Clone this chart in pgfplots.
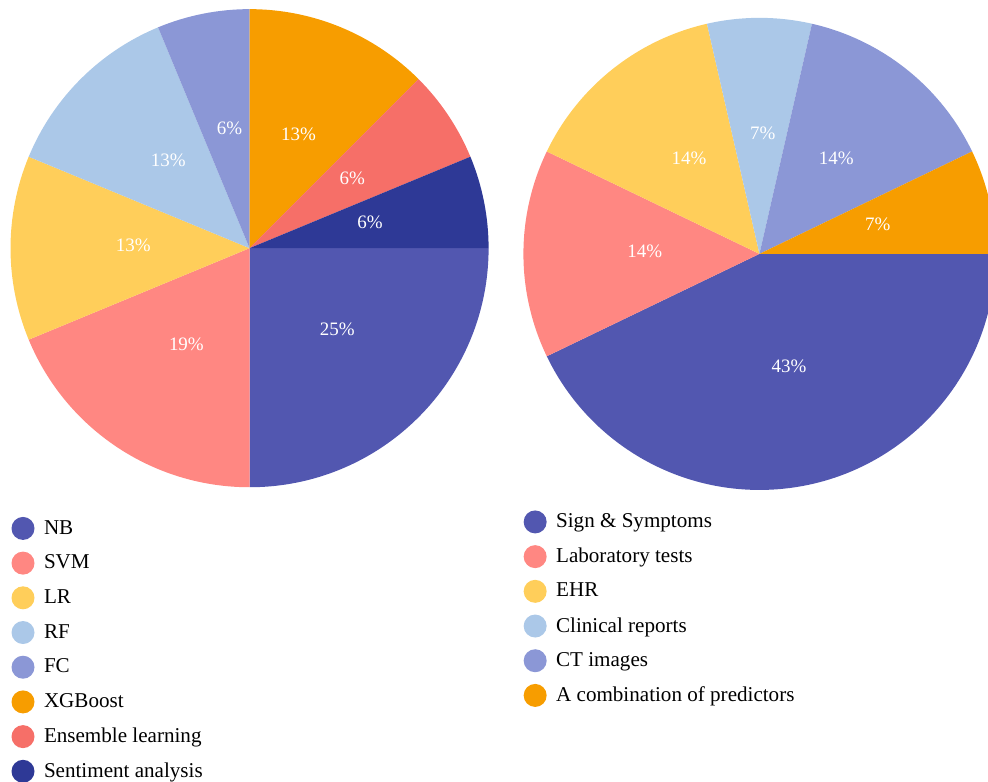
\documentclass[border=0pt]{standalone}
\usepackage{fontspec}
\setmainfont{Liberation Serif}
\usepackage{pgfplots}
\usepackage{pgfplotstable}
\pgfplotsset{compat=1.18}

\definecolor{cNB}{HTML}{5257B0}
\definecolor{cSVM}{HTML}{FF8782}
\definecolor{cLR}{HTML}{FFCE5A}
\definecolor{cRF}{HTML}{ABC8E8}
\definecolor{cFC}{HTML}{8B97D6}
\definecolor{cXGB}{HTML}{F79D00}
\definecolor{cEns}{HTML}{F66F68}
\definecolor{cSent}{HTML}{2E3996}

% Left pie: ML methods (number of studies)
\pgfplotstableread{
name count color
NB 4 cNB
SVM 3 cSVM
LR 2 cLR
RF 2 cRF
FC 1 cFC
XGBoost 2 cXGB
Ensemble 1 cEns
Sentiment 1 cSent
}\tblA

% Right pie: predictors (number of studies)
\pgfplotstableread{
name count color
Signs 6 cNB
Lab 2 cSVM
EHR 2 cLR
Clinical 1 cRF
CT 2 cFC
Combination 1 cXGB
}\tblB

\newcommand{\piechart}[4]{% #1 table, #2 cx, #3 cy, #4 radius (axis units)
  \pgfplotstablegetrowsof{#1}\pgfmathtruncatemacro{\lastrow}{\pgfplotsretval-1}%
  \gdef\ptotal{0}%
  \foreach \i in {0,...,\lastrow}{%
    \pgfplotstablegetelem{\i}{count}\of{#1}%
    \pgfmathsetmacro{\tmp}{\ptotal+\pgfplotsretval}\xdef\ptotal{\tmp}%
  }%
  \gdef\pcum{0}%
  \pgfmathsetlengthmacro{\pR}{#4*0.02cm}%
  \pgfmathsetlengthmacro{\pRl}{0.5*#4*0.02cm}%
  \foreach \i in {0,...,\lastrow}{%
    \pgfplotstablegetelem{\i}{count}\of{#1}\let\pcount\pgfplotsretval
    \pgfplotstablegetelem{\i}{color}\of{#1}\let\pcolor\pgfplotsretval
    \pgfmathsetmacro{\aS}{-360*\pcum/\ptotal}%
    \pgfmathsetmacro{\aE}{-360*(\pcum+\pcount)/\ptotal}%
    \pgfmathsetmacro{\aM}{(\aS+\aE)/2}%
    \pgfmathtruncatemacro{\pct}{round(100*\pcount/\ptotal)}%
    \fill[fill=\pcolor] (axis cs:#2,#3) -- ++(\aS:\pR) arc[start angle=\aS, end angle=\aE, radius=\pR] -- cycle;
    \path (axis cs:#2,#3) ++(\aM:\pRl) node[text=white, inner sep=0pt, xshift=0.065cm, yshift=0.06cm, font=\fontsize{10.8}{12}\selectfont] {\pct\%};
    \pgfmathsetmacro{\tmp}{\pcum+\pcount}\xdef\pcum{\tmp}%
  }%
}

\pgfplotsset{
  piebase/.style={
    x=0.02cm, y=0.02cm, xmin=0, xmax=988, ymin=0, ymax=782,
    hide axis, clip=true, anchor=south west, at={(0,0)},
    legend cell align=left,
    legend image code/.code={\path[##1] (0.23cm,0cm) circle[radius=0.23cm];},
    legend style={draw=none, fill=none, anchor=north west, inner sep=0pt, outer sep=0pt,
      row sep=0.234cm, column sep=0.19cm, font=\fontsize{12}{14}\selectfont,
      nodes={inner sep=0pt, outer sep=0pt}},
  },
}

\begin{document}
\begin{tikzpicture}
\begin{axis}[piebase, legend style={at={(axis description cs:0.01164,0.3389)}}]
\pgfplotsextra{\piechart{\tblA}{249.5}{533.7}{239}}
\addlegendimage{fill=cNB, draw=none}\addlegendentry{NB}
\addlegendimage{fill=cSVM, draw=none}\addlegendentry{SVM}
\addlegendimage{fill=cLR, draw=none}\addlegendentry{LR}
\addlegendimage{fill=cRF, draw=none}\addlegendentry{RF}
\addlegendimage{fill=cFC, draw=none}\addlegendentry{FC}
\addlegendimage{fill=cXGB, draw=none}\addlegendentry{XGBoost}
\addlegendimage{fill=cEns, draw=none}\addlegendentry{Ensemble learning}
\addlegendimage{fill=cSent, draw=none}\addlegendentry{Sentiment analysis}
\end{axis}
\begin{axis}[piebase, legend style={at={(axis description cs:0.5299,0.3472)}}]
\pgfplotsextra{\piechart{\tblB}{759.3}{528}{236}}
\addlegendimage{fill=cNB, draw=none}\addlegendentry{Sign \& Symptoms}
\addlegendimage{fill=cSVM, draw=none}\addlegendentry{Laboratory tests}
\addlegendimage{fill=cLR, draw=none}\addlegendentry{EHR}
\addlegendimage{fill=cRF, draw=none}\addlegendentry{Clinical reports}
\addlegendimage{fill=cFC, draw=none}\addlegendentry{CT images}
\addlegendimage{fill=cXGB, draw=none}\addlegendentry{A combination of predictors}
\end{axis}
\pgfresetboundingbox
\path[use as bounding box] (0,0) rectangle (19.76cm,15.64cm);
\end{tikzpicture}
\end{document}
